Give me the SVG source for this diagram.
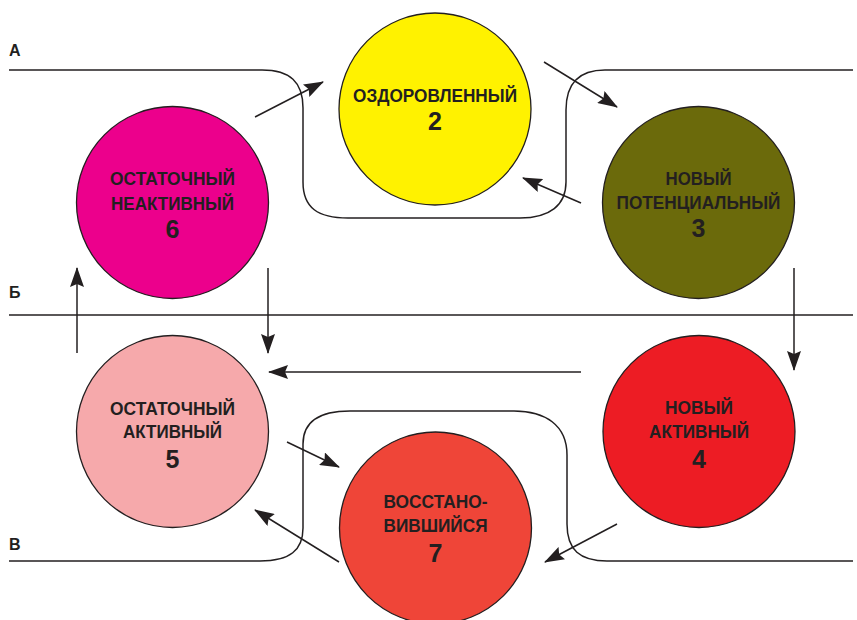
<svg xmlns="http://www.w3.org/2000/svg" width="857" height="620" viewBox="0 0 857 620">
<style>
.ln{fill:none;stroke:#231f20;stroke-width:1.5}
.ar{fill:none;stroke:#231f20;stroke-width:1.5;marker-end:url(#ah)}
.c{stroke:#231f20;stroke-width:1.3}
.t{font-family:"Liberation Sans",Arial,sans-serif;font-weight:bold;fill:#231f20;text-anchor:middle;font-size:19px}
.n{font-size:25px}
.lb{font-family:"Liberation Sans",Arial,sans-serif;font-weight:bold;fill:#231f20;font-size:16px}
</style>
<defs>
<marker id="ah" viewBox="0 0 20 14" refX="19" refY="7" markerWidth="20" markerHeight="14" markerUnits="userSpaceOnUse" orient="auto">
<path d="M0,0 L20,7 L0,14 L3,7 Z" fill="#231f20"/>
</marker>
</defs>
<rect width="857" height="620" fill="#ffffff"/>
<g id="lines">
<path class="ln" d="M9,70 H262 C290,70 303,82 303,108 V182 C303,208 318,218 348,218 H520 C550,218 566,205 566,182 V110 C566,85 578,70 605,70 H853"/>
<path class="ln" d="M9,315 H853"/>
<path class="ln" d="M9,561 H260 C290,561 303,550 303,528 V444 C303,422 318,411 350,411 H514 C545,411 567,425 567,455 V524 C567,550 580,561 607,561 H853"/>
<text class="lb" x="9" y="56">А</text>
<text class="lb" x="9" y="298">Б</text>
<text class="lb" x="9" y="550">В</text>
</g>
<g id="node2">
<circle class="c" cx="435" cy="109" r="96" fill="#fff200"/>
<text class="t" x="435" y="102" textLength="164" lengthAdjust="spacingAndGlyphs">ОЗДОРОВЛЕННЫЙ</text>
<text class="t n" x="435" y="130">2</text>
</g>
<g id="node3">
<circle class="c" cx="698.5" cy="202.5" r="96" fill="#6b6a0b"/>
<text class="t" x="698.5" y="185" textLength="66" lengthAdjust="spacingAndGlyphs">НОВЫЙ</text>
<text class="t" x="698.5" y="209" textLength="164" lengthAdjust="spacingAndGlyphs">ПОТЕНЦИАЛЬНЫЙ</text>
<text class="t n" x="698.5" y="237">3</text>
</g>
<g id="node6">
<circle class="c" cx="172.5" cy="202.5" r="96" fill="#ec008c"/>
<text class="t" x="172.5" y="185" textLength="125" lengthAdjust="spacingAndGlyphs">ОСТАТОЧНЫЙ</text>
<text class="t" x="172.5" y="210" textLength="123" lengthAdjust="spacingAndGlyphs">НЕАКТИВНЫЙ</text>
<text class="t n" x="172.5" y="238">6</text>
</g>
<g id="node5">
<circle class="c" cx="172.5" cy="431.5" r="96" fill="#f6a9ab"/>
<text class="t" x="172.5" y="415" textLength="125" lengthAdjust="spacingAndGlyphs">ОСТАТОЧНЫЙ</text>
<text class="t" x="172.5" y="438" textLength="99" lengthAdjust="spacingAndGlyphs">АКТИВНЫЙ</text>
<text class="t n" x="172.5" y="468">5</text>
</g>
<g id="node4">
<circle class="c" cx="699" cy="431.5" r="96" fill="#ed1c24"/>
<text class="t" x="699" y="414" textLength="68" lengthAdjust="spacingAndGlyphs">НОВЫЙ</text>
<text class="t" x="699" y="438" textLength="100" lengthAdjust="spacingAndGlyphs">АКТИВНЫЙ</text>
<text class="t n" x="699" y="468">4</text>
</g>
<g id="node7">
<circle class="c" cx="435.5" cy="528" r="96" fill="#ef4538"/>
<text class="t" x="435.5" y="508" textLength="104" lengthAdjust="spacingAndGlyphs">ВОССТАНО-</text>
<text class="t" x="435.5" y="532" textLength="104" lengthAdjust="spacingAndGlyphs">ВИВШИЙСЯ</text>
<text class="t n" x="435.5" y="562">7</text>
</g>
<g id="connectors">
<path class="ar" d="M255,117 L323,82"/>
<path class="ar" d="M544,62 L617,107"/>
<path class="ar" d="M581,203 L523,178"/>
<path class="ar" d="M268,268 L268,353"/>
<path class="ar" d="M77,353 L77,268"/>
<path class="ar" d="M794,268 L794,370"/>
<path class="ar" d="M581,372 L269,372"/>
<path class="ar" d="M287,442 L339,467"/>
<path class="ar" d="M339,562 L255,510"/>
<path class="ar" d="M617,524 L545,562"/>
</g>
</svg>
